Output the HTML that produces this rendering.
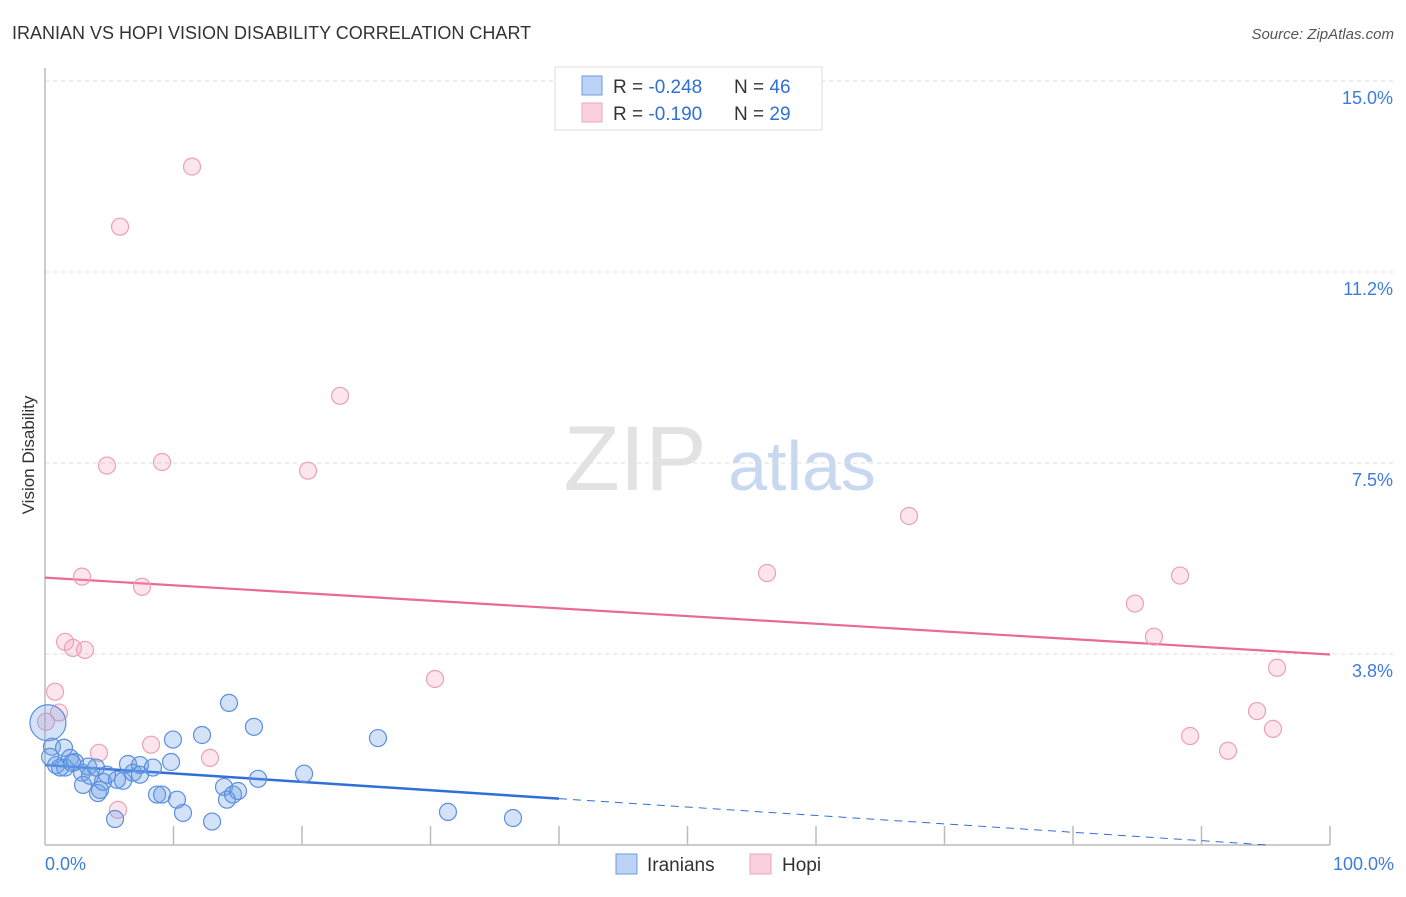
<!DOCTYPE html>
<html><head><meta charset="utf-8"><style>
body{margin:0;background:#fff;font-family:"Liberation Sans",sans-serif}
svg text{font-family:"Liberation Sans",sans-serif}
</style></head><body>
<svg id="c" width="1406" height="892">
<text x="12" y="39" font-size="18" fill="#333">IRANIAN VS HOPI VISION DISABILITY CORRELATION CHART</text>
<text x="1394" y="39" font-size="15" fill="#555" font-style="italic" text-anchor="end">Source: ZipAtlas.com</text>
<text x="34" y="455" font-size="17" fill="#333" text-anchor="middle" transform="rotate(-90 34 455)">Vision Disability</text>
<g><text x="635" y="490" font-size="92" fill="#e2e2e2" font-family="Liberation Serif" text-anchor="middle">ZIP</text><text x="802" y="490" font-size="70" fill="#c8d8f0" text-anchor="middle">atlas</text></g>
<g id="grid"></g><g id="axes"></g><g id="lines"></g><g id="pts"></g>
<g>
<rect x="555" y="67" width="267" height="63" fill="#fff" stroke="#ddd"/>
<rect x="582" y="76" width="20" height="19" fill="#bcd3f5" stroke="#6d9be0"/>
<rect x="582" y="103" width="20" height="19" fill="#fbd0dd" stroke="#eea6be"/>
<text x="613" y="93" font-size="19" fill="#333">R = <tspan fill="#2f6fd6">-0.248</tspan><tspan x="734">N = </tspan><tspan fill="#2f6fd6">46</tspan></text>
<text x="613" y="120" font-size="19" fill="#333">R = <tspan fill="#2f6fd6"> -0.190</tspan><tspan x="734">N = </tspan><tspan fill="#2f6fd6">29</tspan></text>
</g>
<g>
<rect x="616" y="854" width="21" height="20" fill="#bcd3f5" stroke="#6d9be0"/>
<text x="647" y="871" font-size="19" fill="#333">Iranians</text>
<rect x="750" y="854" width="21" height="20" fill="#fbd0dd" stroke="#eea6be"/>
<text x="782" y="871" font-size="19" fill="#333">Hopi</text>
</g>
</svg>
<script>
const blueX=[0.23,0.54,0.39,1.48,0.86,1.56,1.95,2.33,2.88,2.96,3.35,3.50,3.97,4.12,4.51,4.82,5.60,6.07,6.46,6.85,7.39,8.40,8.72,9.11,9.81,9.96,10.27,10.74,12.22,13.00,13.93,14.16,14.63,15.02,14.32,16.26,16.58,20.16,25.91,31.36,36.42,5.45,4.28,7.39,1.17,2.10];
const blueY=[2.40,1.93,1.73,1.91,1.57,1.52,1.71,1.63,1.42,1.18,1.54,1.36,1.52,1.02,1.24,1.38,1.28,1.26,1.59,1.42,1.57,1.52,0.99,0.99,1.63,2.07,0.89,0.63,2.16,0.46,1.14,0.89,0.99,1.06,2.79,2.32,1.30,1.40,2.10,0.65,0.53,0.51,1.08,1.38,1.52,1.61];
const pinkX=[0.78,1.09,1.56,2.18,3.11,2.88,4.82,5.84,7.55,9.11,11.44,8.25,4.20,12.84,5.68,20.47,22.96,30.35,56.19,67.24,84.82,86.30,88.33,89.11,92.06,94.32,95.56,95.88,0.08];
const pinkY=[3.01,2.60,3.99,3.87,3.83,5.27,7.45,12.14,5.07,7.52,13.32,1.97,1.81,1.71,0.69,7.35,8.82,3.26,5.34,6.46,4.74,4.09,5.29,2.14,1.85,2.63,2.28,3.48,2.42];
const yTicks=[3.75,7.5,11.25,15.0];
const yTickLabels=["3.8%","7.5%","11.2%","15.0%"];
const blueFit=[1.57,-0.0165];
const pinkFit=[5.25,-0.0151];
const NS="http://www.w3.org/2000/svg";
const X=v=>45+v*12.85, Y=v=>845-v*50.93;
function mk(t,a,p){const e=document.createElementNS(NS,t);for(const k in a)e.setAttribute(k,a[k]);document.getElementById(p).appendChild(e);return e;}
yTicks.forEach((t,i)=>{
 const g=mk('line',{x1:45,x2:1394,y1:Y(t),y2:Y(t),stroke:'#ddd','stroke-dasharray':'4,4'},'grid');
 
 
 const l=mk('text',{x:1393,y:Y(t)+23,'font-size':18,fill:'#3d7be0','text-anchor':'end'},'grid');
 l.textContent=yTickLabels[i];
 
 
});
let a=mk('line',{x1:45,x2:45,y1:68,y2:845,stroke:'#bbb','stroke-width':1.5},'axes');


a=mk('line',{x1:45,x2:1330,y1:845,y2:845,stroke:'#bbb','stroke-width':1.5},'axes');


for(let i=1;i<=10;i++){const t=mk('line',{x1:X(i*10),x2:X(i*10),y1:826,y2:845,stroke:'#bbb','stroke-width':1.5},'axes');
 
 }
a=mk('text',{x:45,y:870,'font-size':18,fill:'#3d7be0'},'axes');a.textContent='0.0%';


a=mk('text',{x:1394,y:870,'font-size':18,fill:'#3d7be0','text-anchor':'end'},'axes');a.textContent='100.0%';


let f=v=>pinkFit[0]+pinkFit[1]*v;
a=mk('line',{x1:X(0),y1:Y(f(0)),x2:X(100),y2:Y(f(100)),stroke:'#e86a97','stroke-width':2.2},'lines');


f=v=>blueFit[0]+blueFit[1]*v;
a=mk('line',{x1:X(0),y1:Y(f(0)),x2:X(40),y2:Y(f(40)),stroke:'#2f6fd6','stroke-width':2.5},'lines');


a=mk('line',{x1:X(40),y1:Y(f(40)),x2:X(95),y2:Y(f(95)),stroke:'#2f6fd6','stroke-width':1,'stroke-dasharray':'8,6'},'lines');


pinkX.forEach((v,i)=>{const c=mk('circle',{cx:X(v),cy:Y(pinkY[i]),r:8.5,fill:'rgba(245,160,190,0.28)',stroke:'#eba0ba','stroke-width':1.2},'pts');
 
 });
blueX.forEach((v,i)=>{const c=mk('circle',{cx:X(v),cy:Y(blueY[i]),r:i==0?18:8.5,fill:'rgba(110,160,230,0.3)',stroke:'#5b8fe0','stroke-width':1.2},'pts');
 
 });
</script>
</body></html>
